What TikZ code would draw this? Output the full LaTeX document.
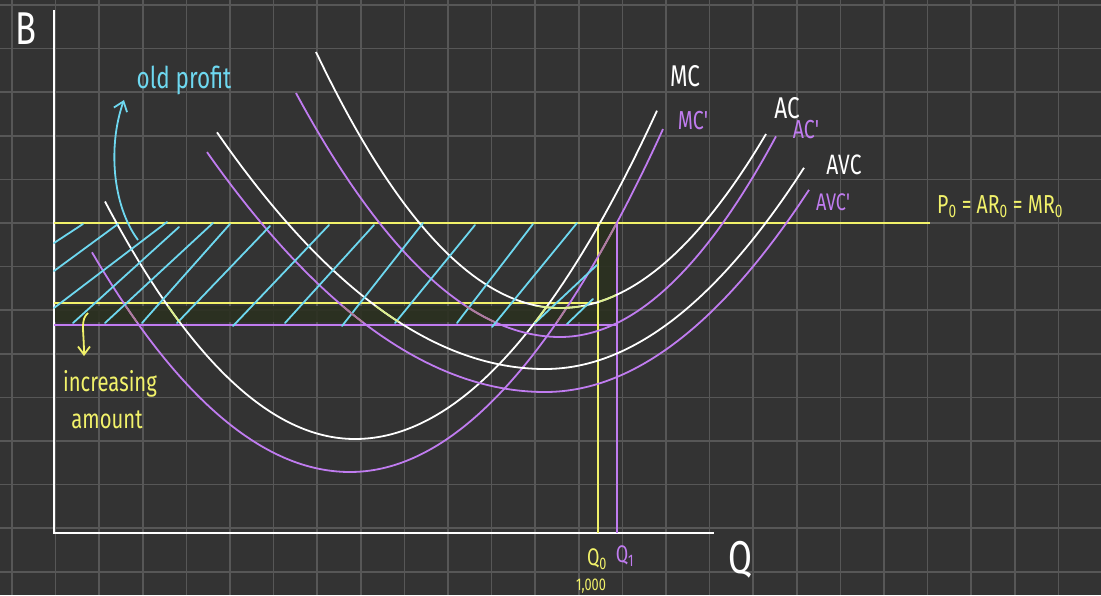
\documentclass[tikz,border=0pt]{standalone}
\usepackage{fontspec}
\newfontfamily\hand{Fira Sans}[FakeStretch=0.75]
\usetikzlibrary{arrows.meta}
\definecolor{bg}{HTML}{333333}
\definecolor{gridc}{HTML}{575757}
\definecolor{pur}{HTML}{C07CF0}
\definecolor{cy}{HTML}{6ED8F0}
\definecolor{yel}{HTML}{F2F26A}
\definecolor{bandc}{HTML}{2B3020}
\definecolor{tintw}{HTML}{DDF08C}
\definecolor{tintp}{HTML}{B07E9C}
% U-shaped cost curve: style, x start, x of minimum, x end, y of minimum, left coeff, right coeff
\newcommand\ucurve[7]{\draw[#1] plot[domain=#2:#3, samples=40, smooth] (\x,{#5-#6*((\x-#3)/100)*((\x-#3)/100)}) -- plot[domain=#3:#4, samples=40, smooth] (\x,{#5-#7*((\x-#3)/100)*((\x-#3)/100)});}
\newcommand\curveMC[1]{\ucurve{#1}{105}{355}{657}{439}{38}{36}}
\newcommand\curveMCp[1]{\ucurve{#1}{92}{350}{663}{472}{33}{35}}
\newcommand\curveAC[1]{\ucurve{#1}{316}{560}{766}{308}{43}{41}}
\newcommand\curveACp[1]{\ucurve{#1}{296}{560}{776}{337}{35}{43}}
\newcommand\curveAVC[1]{\ucurve{#1}{217}{545}{804}{369}{22}{30}}
\newcommand\curveAVCp[1]{\ucurve{#1}{207}{545}{809}{392}{21}{29}}
\tikzset{
  curve/.style={line width=1.8pt},
  hatch/.style={cy, line width=1.8pt, line cap=round},
  guide/.style={line width=1.5pt},
  lbl/.style={inner sep=0pt, font=\hand\fontsize{#1}{#1}\selectfont},
}
\begin{document}
\begin{tikzpicture}[x=1pt,y=-1pt]
\fill[bg] (0,0) rectangle (1101,595);
\useasboundingbox (0,0) rectangle (1101,595);
% grid
\foreach \i in {0,...,25} \draw[gridc, line width=1.6pt] ({12+43.6*\i},0) -- ({12+43.6*\i},595);
\foreach \j in {0,...,13} \draw[gridc, line width=1.6pt] (0,{5+43.6*\j}) -- (1101,{5+43.6*\j});
% highlighter band
\fill[bandc, opacity=0.9] (54,306) rectangle (617,322) (599,223) rectangle (616,306);
% axes
\draw[white, line width=2.4pt] (54,10) -- (54,533) -- (714,533);
% guide lines
\draw[yel, guide] (54,223) -- (930,223);
\draw[yel, guide] (54,303) -- (598,303);
\draw[pur, guide] (54,325) -- (617,325);
\draw[yel, guide] (598,223) -- (598,533);
\draw[pur, guide] (617,223) -- (617,533);
% curves
\curveMC{white, curve}
\curveMCp{pur, curve}
\curveAC{white, curve}
\curveACp{pur, curve}
\curveAVC{white, curve}
\curveAVCp{pur, curve}
% hatching
\foreach \a/\b/\c/\d in {54/243/83/224, 54/271/118/224, 54/308/167/222, 73/323/179/227, 105/323/213/223, 142/323/230/224, 177/323/270/226, 233/326/329/225, 285/323/374/225, 342/326/423/223, 395/323/475/225, 457/323/533/224, 492/327/577/223, 535/323/597/265, 567/324/593/299}
  \draw[hatch] (\a,\b) -- (\c,\d);
% tinted parts under highlighter
\begin{scope}
\clip (54,306) rectangle (617,322) (599,223) rectangle (616,306);
\curveMC{tintw, curve}
\curveMCp{tintp, curve}
\curveAC{tintw, curve}
\curveACp{tintp, curve}
\curveAVC{tintw, curve}
\curveAVCp{tintp, curve}
\end{scope}
% arrows
\coordinate (opA) at (138,240);
\coordinate (opB) at (124,100);
\draw[cy, line width=1.8pt, -{Straight Barb[length=9pt,width=14pt]}] (opA) .. controls (112,205) and (108,145) .. (opB);
\coordinate (iaA) at (88,313);
\coordinate (iaB) at (84,356);
\draw[yel, line width=1.8pt, -{Straight Barb[length=8pt,width=12pt]}] (iaA) .. controls (80,320) and (84,330) .. (iaB);
% labels
\node[lbl=46, text=white] (bl) at (26,29) {B};
\node[lbl=30, text=cy] (op) at (184,80) {old profit};
\node[lbl=30, text=white] (mc) at (685,76) {MC};
\node[lbl=26, text=pur] (mcp) at (693,121) {MC'};
\node[lbl=30, text=white] (ac) at (787,108) {AC};
\node[lbl=26, text=pur] (acp) at (806,130) {AC'};
\node[lbl=28, text=white] (avc) at (844,165) {AVC};
\node[lbl=24, text=pur] (avcp) at (833,202) {AVC'};
\node[lbl=26, text=yel, anchor=west] (pl) at (937,207) {P\textsubscript{0} = AR\textsubscript{0} = MR\textsubscript{0}};
\node[lbl=24, text=yel] (q0) at (597,559) {Q\textsubscript{0}};
\node[lbl=24, text=pur] (q1) at (625,556) {Q\textsubscript{1}};
\node[lbl=17, text=yel] (th) at (591,586) {1,000};
\node[lbl=46, text=white] (q) at (740,560) {Q};
\node[lbl=27, text=yel] (inc) at (110,384) {increasing};
\node[lbl=27, text=yel] (amt) at (107,420) {amount};
\end{tikzpicture}
\end{document}
